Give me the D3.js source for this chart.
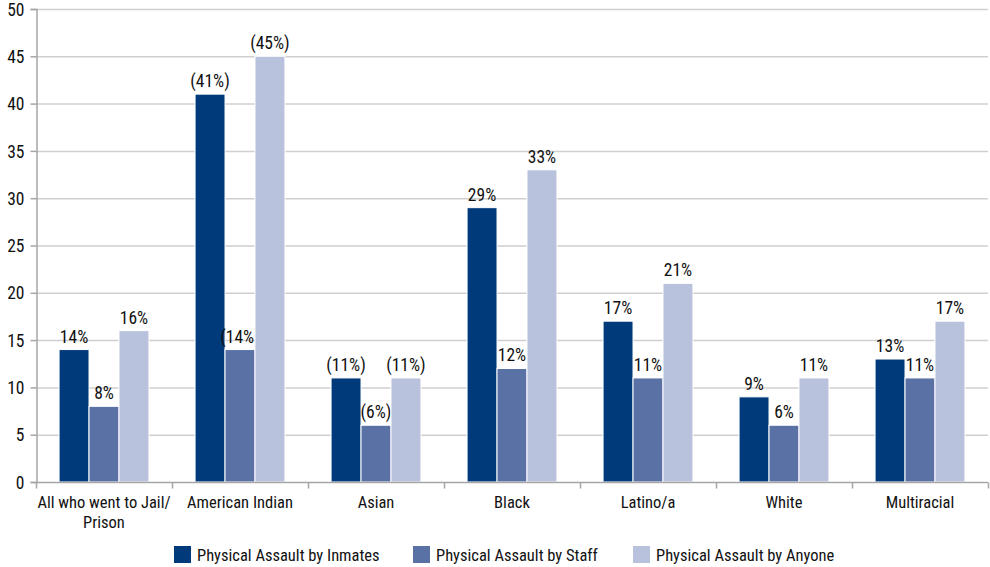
<!DOCTYPE html>
<html><head><meta charset="utf-8">
<script src="https://cdn.jsdelivr.net/npm/d3@7"></script>
<style>
body{margin:0;background:#fff;}
svg text{font-family:"Liberation Sans Narrow","Arial Narrow","Roboto Condensed",sans-serif;fill:#111;}
</style></head><body>
<svg id="c" width="990" height="567"></svg>
<script>
const categories = ["All who went to Jail/\nPrison","American Indian","Asian","Black","Latino/a","White","Multiracial"];
const seriesNames = ["Physical Assault by Inmates","Physical Assault by Staff","Physical Assault by Anyone"];
const inmates = [14,41,11,29,17,9,13];
const staff = [8,14,6,12,11,6,11];
const anyone = [16,45,11,33,21,11,17];
const labelsInmates = ["14%","(41%)","(11%)","29%","17%","9%","13%"];
const labelsStaff = ["8%","(14%)","(6%)","12%","11%","6%","11%"];
const labelsAnyone = ["16%","(45%)","(11%)","33%","21%","11%","17%"];
const yTicks = [0,5,10,15,20,25,30,35,40,45,50];
const colors = ["#003a7a","#5a71a6","#b9c2dd"];

const series = [inmates, staff, anyone];
const labels = [labelsInmates, labelsStaff, labelsAnyone];

const svg = d3.select("#c");
const m = {l:36, r:2, t:9, b:85};
const W = 990, H = 567;
const x = d3.scaleBand().domain(d3.range(categories.length)).range([m.l, W-m.r]).paddingInner(0).paddingOuter(0);
const y = d3.scaleLinear().domain([0,50]).range([H-m.b, m.t]);
const xs = d3.scaleBand().domain(d3.range(3)).range([0, x.bandwidth()]).paddingInner(0).paddingOuter(0.77);

// gridlines
svg.append("g").selectAll("line").data(yTicks.filter(d=>d>0)).join("line")
  .attr("x1", m.l).attr("x2", W-m.r)
  .attr("y1", d=>y(d)+0.5).attr("y2", d=>y(d)+0.5)
  .attr("stroke","#cfcfcf").attr("stroke-width",1.5);

// y axis
const ya = svg.append("g").attr("transform",`translate(${m.l+0.5},0)`)
  .call(d3.axisLeft(y).tickValues(yTicks).tickSize(6).tickPadding(6));
ya.select(".domain").attr("stroke","#a6a6a6").attr("stroke-width",1.5);
ya.selectAll(".tick line").attr("stroke","#a6a6a6").attr("stroke-width",1.5);
ya.selectAll(".tick text").style("font-size","17.5px").attr("fill","#111").attr("dy","0.35em");

// bars
series.forEach((s,si)=>{
  svg.append("g").selectAll("rect").data(s).join("rect")
    .attr("x",(d,i)=>x(i)+xs(si))
    .attr("width", xs.bandwidth())
    .attr("y", d=>y(d))
    .attr("height", d=>y(0)-y(d))
    .attr("fill", colors[si])
    .attr("stroke","#fff").attr("stroke-width",1);
  svg.append("g").selectAll("text").data(s).join("text")
    .attr("x",(d,i)=>x(i)+xs(si)+xs.bandwidth()/2)
    .attr("y", d=>y(d)-7)
    .attr("text-anchor","middle")
    .style("font-size","17.5px")
    .text((d,i)=>labels[si][i]);
});

// x axis
const xa = svg.append("g").attr("transform",`translate(0,${y(0)+0.5})`);
xa.append("line").attr("x1",m.l).attr("x2",W-m.r).attr("stroke","#a6a6a6").attr("stroke-width",1.5);
xa.selectAll("line.t").data(d3.range(categories.length+1)).join("line").attr("class","t")
  .attr("x1",i=>m.l+i*x.bandwidth()+0.5).attr("x2",i=>m.l+i*x.bandwidth()+0.5)
  .attr("y1",0).attr("y2",6).attr("stroke","#a6a6a6").attr("stroke-width",1.5);
xa.selectAll("text").data(categories).join("text")
  .attr("text-anchor","middle")
  .attr("x",(d,i)=>x(i)+x.bandwidth()/2)
  .attr("y",25)
  .style("font-size","16.5px")
  .each(function(d){
    const lines = d.split("\n");
    d3.select(this).selectAll("tspan").data(lines).join("tspan")
      .attr("x", d3.select(this).attr("x")).attr("dy",(l,j)=>j?"1.25em":0).text(l=>l);
  });

// legend
const legX = [174, 413, 633];
const lg = svg.append("g");
seriesNames.forEach((n,i)=>{
  lg.append("rect").attr("x",legX[i]).attr("y",546).attr("width",17).attr("height",17).attr("fill",colors[i]);
  lg.append("text").attr("x",legX[i]+23).attr("y",561).style("font-size","16.5px").text(n);
});
</script></body></html>
